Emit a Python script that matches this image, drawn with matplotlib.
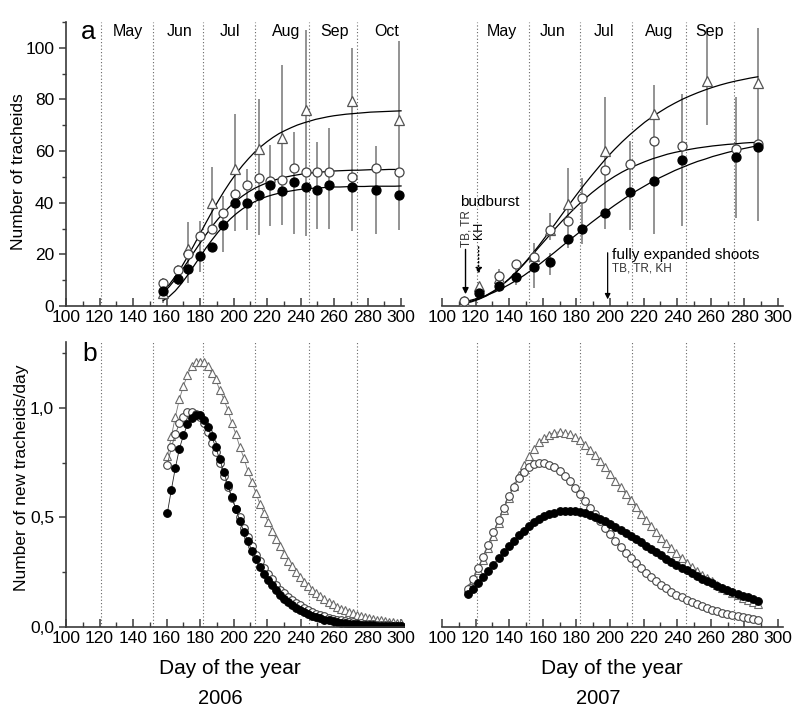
import numpy as np
import matplotlib
matplotlib.use('Agg')
from matplotlib import pyplot as plt
from matplotlib.ticker import MultipleLocator, FixedLocator, FixedFormatter

plt.rcParams['font.family'] = ['Liberation Sans', 'DejaVu Sans']

months = [121, 152, 182, 213, 245, 274]
month_names06 = ['May', 'Jun', 'Jul', 'Aug', 'Sep', 'Oct']
month_pos06 = [137, 167.5, 198, 231.5, 260.5, 291.5]
month_names07 = ['May', 'Jun', 'Jul', 'Aug', 'Sep']
month_pos07 = [135.5, 166, 196.5, 229.5, 259.5]

# ---- 2006 observations (number of tracheids)
tri06_day = [158, 173, 187, 201, 215, 229, 243, 271, 299]
tri06_val = [5, 22, 40, 53, 61, 65, 76, 79.5, 72]
ope06_day = [158, 167, 173, 180, 187, 194, 201, 208, 215, 222, 229, 236, 243, 250, 257, 271, 285, 299]
ope06_val = [9, 14, 20, 27, 30, 36, 43.5, 47, 49.5, 48.5, 49, 53.5, 52, 52, 52, 50, 53.5, 52]
fil06_day = ope06_day
fil06_val = [6, 10.5, 14.5, 19.5, 23, 31.5, 40, 40, 43, 47, 44.5, 48, 46, 45, 47, 46, 45, 43]
err06_day = [158, 167, 173, 180, 187, 194, 201, 208, 215, 222, 229, 236, 243, 250, 257, 271, 285, 299]
err06_lo = [1, 8, 9, 13, 29.5, 21, 29, 29.5, 27.5, 31, 31.5, 28, 27, 30, 30, 29, 28, 29.5]
err06_hi = [11, 16, 32.5, 33, 54, 42.5, 74.5, 53, 80, 62.5, 93.5, 67.5, 107, 63.5, 69, 100, 62, 102.5]

# ---- 2007 observations
tri07_day = [113, 122, 134, 155, 164, 175, 197, 226, 258, 288]
tri07_val = [2, 7.9, 10.8, 19.5, 29.5, 39.6, 60, 74.3, 87.2, 86.3]
ope07_day = [113, 134, 144, 155, 164, 175, 183.5, 197, 212, 226, 243, 275, 288]
ope07_val = [2, 11.5, 16.3, 19, 29.5, 33, 41.8, 52.5, 55, 64, 62, 61, 62.8]
fil07_day = [122, 134, 144, 155, 164, 175, 183.5, 197, 212, 226, 243, 275, 288]
fil07_val = [5, 7.9, 11.2, 15.2, 16.9, 25.9, 30, 36, 44, 48.3, 56.6, 57.9, 61.4]
err07_day = [134, 144, 155, 164, 164, 175, 183.5, 197, 212, 226, 243, 258, 275, 288]
err07_lo = [5.5, 8, 7, 12, 25.5, 22.5, 24, 30, 29.5, 28, 31, 70, 34, 33]
err07_hi = [14.5, 18, 24.5, 20.5, 36, 53.5, 49.5, 81, 64, 85.5, 82, 107.5, 81, 107.5]

# ---- fitted curves
fit06_day = np.linspace(158, 300, 40)
fit07_day = np.linspace(113, 288, 40)
fit06_tri = [5.7, 8.3, 11.5, 15.1, 19.1, 23.4, 27.8, 32.2, 36.5, 40.6, 44.5, 48.1, 51.4, 54.4, 57.1, 59.6, 61.7, 63.6, 65.3, 66.8,
             68.0, 69.1, 70.1, 70.9, 71.6, 72.3, 72.8, 73.3, 73.7, 74.0, 74.3, 74.5, 74.7, 74.9, 75.1, 75.2, 75.3, 75.4, 75.5, 75.6]
fit06_ope = [5.0, 7.5, 10.4, 13.6, 17.1, 20.7, 24.2, 27.6, 30.8, 33.7, 36.4, 38.7, 40.8, 42.6, 44.2, 45.6, 46.7, 47.7, 48.6, 49.3,
             49.9, 50.4, 50.8, 51.2, 51.5, 51.7, 51.9, 52.1, 52.3, 52.4, 52.5, 52.6, 52.6, 52.7, 52.8, 52.8, 52.8, 52.9, 52.9, 52.9]
fit06_fil = [2.1, 3.7, 5.9, 8.7, 11.9, 15.4, 18.9, 22.4, 25.6, 28.6, 31.3, 33.7, 35.8, 37.6, 39.1, 40.4, 41.5, 42.4, 43.1, 43.7,
             44.2, 44.6, 45.0, 45.3, 45.5, 45.7, 45.8, 46.0, 46.1, 46.1, 46.2, 46.3, 46.3, 46.3, 46.4, 46.4, 46.4, 46.4, 46.4, 46.5]
fit07_tri = [1.1, 1.9, 2.8, 4.2, 5.9, 8.0, 10.5, 13.3, 16.5, 19.9, 23.6, 27.5, 31.4, 35.4, 39.4, 43.3, 47.1, 50.7, 54.2, 57.6,
             60.7, 63.6, 66.3, 68.8, 71.2, 73.3, 75.2, 77.0, 78.6, 80.1, 81.4, 82.6, 83.7, 84.7, 85.6, 86.4, 87.1, 87.7, 88.3, 88.8]
fit07_ope = [0.9, 1.6, 2.6, 3.9, 5.7, 7.9, 10.4, 13.2, 16.3, 19.5, 22.9, 26.2, 29.6, 32.8, 35.8, 38.7, 41.4, 43.9, 46.2, 48.3,
             50.2, 51.9, 53.4, 54.7, 55.9, 57.0, 57.9, 58.8, 59.5, 60.1, 60.7, 61.2, 61.6, 62.0, 62.3, 62.6, 62.8, 63.1, 63.3, 63.4]
fit07_fil = [1.6, 2.3, 3.1, 4.1, 5.3, 6.7, 8.3, 10.0, 11.9, 14.0, 16.1, 18.4, 20.7, 23.1, 25.5, 27.8, 30.2, 32.5, 34.7, 36.9,
             39.0, 41.0, 43.0, 44.8, 46.5, 48.2, 49.7, 51.1, 52.5, 53.7, 54.9, 56.0, 56.9, 57.9, 58.7, 59.5, 60.2, 60.9, 61.5, 62.1]

# ---- new tracheids per day
rate06_day = np.linspace(160.5, 300, 59)
rate07_day = np.linspace(115.5, 288, 58)
rate06_tri = [0.78, 0.87, 0.96, 1.04, 1.10, 1.15, 1.19, 1.21, 1.21, 1.21, 1.19, 1.16, 1.13, 1.08, 1.04, 0.99, 0.93, 0.88, 0.82, 0.77,
              0.71, 0.66, 0.61, 0.56, 0.52, 0.48, 0.44, 0.40, 0.37, 0.334, 0.303, 0.276, 0.251, 0.228, 0.207, 0.188, 0.170, 0.154, 0.140, 0.127,
              0.115, 0.103, 0.093, 0.084, 0.076, 0.068, 0.062, 0.055, 0.050, 0.045, 0.041, 0.037, 0.033, 0.030, 0.027, 0.024, 0.022, 0.020, 0.018]
rate06_ope = [0.74, 0.82, 0.88, 0.93, 0.96, 0.98, 0.98, 0.97, 0.96, 0.93, 0.89, 0.84, 0.80, 0.75, 0.69, 0.64, 0.59, 0.54, 0.50, 0.45,
              0.41, 0.37, 0.33, 0.30, 0.27, 0.24, 0.22, 0.19, 0.17, 0.156, 0.139, 0.123, 0.110, 0.098, 0.087, 0.077, 0.069, 0.061, 0.054, 0.048,
              0.043, 0.038, 0.034, 0.030, 0.027, 0.024, 0.021, 0.019, 0.017, 0.0146, 0.0130, 0.0115, 0.0102, 0.0090, 0.0080, 0.0071, 0.0063, 0.0056, 0.0050]
rate06_fil = [0.52, 0.627, 0.727, 0.814, 0.875, 0.925, 0.955, 0.969, 0.965, 0.945, 0.912, 0.869, 0.819, 0.764, 0.707, 0.649, 0.592, 0.537, 0.484, 0.435,
              0.390, 0.348, 0.310, 0.275, 0.243, 0.215, 0.190, 0.167, 0.147, 0.129, 0.114, 0.100, 0.087, 0.077, 0.067, 0.059, 0.051, 0.045, 0.039, 0.034,
              0.030, 0.026, 0.023, 0.020, 0.018, 0.015, 0.013, 0.012, 0.010, 0.009, 0.008, 0.007, 0.006, 0.005, 0.004, 0.004, 0.003, 0.003, 0.003]
rate07_tri = [0.18, 0.215, 0.258, 0.305, 0.359, 0.416, 0.475, 0.533, 0.590, 0.644, 0.694, 0.740, 0.780, 0.814, 0.842, 0.863, 0.878, 0.887, 0.890, 0.887,
              0.879, 0.867, 0.851, 0.831, 0.808, 0.783, 0.756, 0.728, 0.699, 0.668, 0.638, 0.607, 0.577, 0.547, 0.517, 0.488, 0.460, 0.434, 0.408, 0.383,
              0.359, 0.336, 0.315, 0.294, 0.275, 0.257, 0.239, 0.223, 0.208, 0.193, 0.180, 0.167, 0.156, 0.145, 0.134, 0.125, 0.116, 0.107]
rate07_ope = [0.175, 0.22, 0.268, 0.32, 0.375, 0.432, 0.489, 0.545, 0.596, 0.640, 0.678, 0.707, 0.729, 0.743, 0.749, 0.748, 0.741, 0.728, 0.711, 0.689,
              0.664, 0.636, 0.607, 0.576, 0.545, 0.514, 0.483, 0.452, 0.422, 0.393, 0.365, 0.339, 0.314, 0.290, 0.268, 0.247, 0.227, 0.209, 0.192, 0.176,
              0.161, 0.148, 0.135, 0.124, 0.113, 0.103, 0.094, 0.086, 0.079, 0.072, 0.065, 0.060, 0.054, 0.049, 0.045, 0.041, 0.037, 0.034]
rate07_fil = [0.149, 0.174, 0.201, 0.228, 0.256, 0.285, 0.313, 0.341, 0.368, 0.394, 0.418, 0.440, 0.460, 0.477, 0.492, 0.505, 0.515, 0.522, 0.527, 0.530,
              0.530, 0.528, 0.525, 0.519, 0.512, 0.503, 0.493, 0.482, 0.470, 0.457, 0.444, 0.430, 0.415, 0.401, 0.386, 0.371, 0.356, 0.341, 0.327, 0.312,
              0.298, 0.284, 0.271, 0.258, 0.245, 0.233, 0.221, 0.210, 0.199, 0.188, 0.178, 0.169, 0.160, 0.151, 0.143, 0.135, 0.127, 0.120]

axis_col = '#3a3a3a'
fig = plt.figure(figsize=(8, 7.2), dpi=100)
ax1 = fig.add_axes([0.0825, 0.575, 0.423, 0.3944])
ax2 = fig.add_axes([0.5525, 0.575, 0.4263, 0.3944])
ax3 = fig.add_axes([0.0825, 0.1292, 0.423, 0.3958])
ax4 = fig.add_axes([0.5525, 0.1292, 0.4263, 0.3958])

for ax in [ax1, ax2, ax3, ax4]:
  for m in months:
    ax.axvline(m, color='#666666', ls=(0, (1, 2)), lw=0.8, zorder=0)
  for s in ['top', 'right']:
    ax.spines[s].set_visible(False)
  ax.spines['bottom'].set_color(axis_col)
  ax.spines['left'].set_color(axis_col)
  ax.spines['bottom'].set_linewidth(1.2)
  ax.spines['left'].set_linewidth(1.2)
  ax.xaxis.set_major_locator(MultipleLocator(20))
  ax.xaxis.set_minor_locator(MultipleLocator(10))
  ax.tick_params(axis='x', which='both', direction='in', color=axis_col, labelsize=12.5, pad=3)
  ax.tick_params(axis='x', which='major', length=6, width=1.1)
  ax.tick_params(axis='x', which='minor', length=3.5, width=1.0)
  ax.tick_params(axis='y', which='both', direction='out', color=axis_col, labelsize=12.5)
  ax.tick_params(axis='y', which='major', length=5, width=1.1)
  ax.tick_params(axis='y', which='minor', length=3, width=1.0)

for ax in [ax2, ax4]:
  ax.spines['left'].set_visible(False)
  ax.tick_params(axis='y', which='both', left=False, labelleft=False)

ax1.set_xlim(100, 302); ax1.set_ylim(0, 110)
ax2.set_xlim(100, 303); ax2.set_ylim(0, 110)
ax3.set_xlim(100, 302); ax3.set_ylim(0, 1.3)
ax4.set_xlim(100, 303); ax4.set_ylim(0, 1.3)
for ax in [ax1, ax2]:
  ax.yaxis.set_major_locator(MultipleLocator(20))
  ax.yaxis.set_minor_locator(MultipleLocator(10))
for ax in [ax3, ax4]:
  ax.yaxis.set_major_locator(FixedLocator([0, 0.5, 1.0]))
  ax.yaxis.set_major_formatter(FixedFormatter(['0,0', '0,5', '1,0']))
  ax.yaxis.set_minor_locator(FixedLocator([0.25, 0.75, 1.25]))

for name, pos in zip(month_names06, month_pos06):
  ax1.text(pos, 106.5, name, ha='center', va='center', fontsize=11.5)
for name, pos in zip(month_names07, month_pos07):
  ax2.text(pos, 106.5, name, ha='center', va='center', fontsize=11.5)

ax1.text(113, 106, 'a', ha='center', va='center', fontsize=19)
ax3.text(114, 1.245, 'b', ha='center', va='center', fontsize=19)

# top panels: error bars, fitted lines, samples
err_col = '#8a8a8a'
tri_kw = dict(ls='none', marker='^', mfc='white', mec='#555555', ms=7, mew=0.9, zorder=4)
ope_kw = dict(ls='none', marker='o', mfc='white', mec='#444444', ms=6.5, mew=0.9, zorder=4)
fil_kw = dict(ls='none', marker='o', mfc='black', mec='black', ms=6.5, mew=0.9, zorder=5)

ax1.vlines(err06_day, err06_lo, err06_hi, color=err_col, lw=1.3, zorder=1)
ax2.vlines(err07_day, err07_lo, err07_hi, color=err_col, lw=1.3, zorder=1)

for v in [fit06_tri, fit06_ope, fit06_fil]:
  ax1.plot(fit06_day, v, 'k-', lw=0.9, zorder=3)
for v in [fit07_tri, fit07_ope, fit07_fil]:
  ax2.plot(fit07_day, v, 'k-', lw=0.9, zorder=3)

ax1.plot(tri06_day, tri06_val, **tri_kw)
ax1.plot(ope06_day, ope06_val, **ope_kw)
ax1.plot(fil06_day, fil06_val, **fil_kw)
ax2.plot(tri07_day, tri07_val, **tri_kw)
ax2.plot(ope07_day, ope07_val, **ope_kw)
ax2.plot(fil07_day, fil07_val, **fil_kw)

# bottom panels
btri_kw = dict(marker='^', mfc='white', mec='#6a6a6a', ms=6, mew=0.8, color='#777777', lw=0.6)
bope_kw = dict(marker='o', mfc='white', mec='#444444', ms=5.5, mew=0.8, color='#555555', lw=0.6)
bfil_kw = dict(marker='o', mfc='black', mec='black', ms=5.5, mew=0.8, color='#222222', lw=0.6)
ax3.plot(rate06_day, rate06_tri, **btri_kw)
ax3.plot(rate06_day, rate06_ope, **bope_kw)
ax3.plot(rate06_day, rate06_fil, **bfil_kw)
ax4.plot(rate07_day, rate07_tri, **btri_kw)
ax4.plot(rate07_day, rate07_ope, **bope_kw)
ax4.plot(rate07_day, rate07_fil, **bfil_kw)

# annotations 2007
ax2.text(110.7, 40.3, 'budburst', ha='left', va='center', fontsize=11)
ax2.text(114.7, 30, 'TB, TR', rotation=90, ha='center', va='center', fontsize=8.5, color='#333333')
ax2.text(122, 29.4, 'KH', rotation=90, ha='center', va='center', fontsize=9)
ax2.annotate('', xy=(114, 3.5), xytext=(114, 23),
             arrowprops=dict(arrowstyle='-|>', color='black', lw=1.0, mutation_scale=9))
ax2.annotate('', xy=(121.8, 11.3), xytext=(121.8, 24),
             arrowprops=dict(arrowstyle='-|>', color='black', lw=1.0, ls=':', mutation_scale=9))
ax2.text(201.4, 19.7, 'fully expanded shoots', ha='left', va='center', fontsize=11)
ax2.text(201.4, 14.6, 'TB, TR, KH', ha='left', va='center', fontsize=8.5, color='#333333')
ax2.annotate('', xy=(198.6, 1.5), xytext=(198.6, 21.7),
             arrowprops=dict(arrowstyle='-|>', color='black', lw=0.9, mutation_scale=8))

fig.text(19/800, 1-172/720, 'Number of tracheids', rotation=90, ha='center', va='center', fontsize=12.5)
fig.text(21.5/800, 1-478/720, 'Number of new tracheids/day', rotation=90, ha='center', va='center', fontsize=12.5)
fig.text(230/800, 1-668/720, 'Day of the year', ha='center', va='center', fontsize=15)
fig.text(220/800, 1-698/720, '2006', ha='center', va='center', fontsize=14.5)
fig.text(611.7/800, 1-668/720, 'Day of the year', ha='center', va='center', fontsize=15)
fig.text(598/800, 1-698/720, '2007', ha='center', va='center', fontsize=14.5)

fig.savefig('out.png')
